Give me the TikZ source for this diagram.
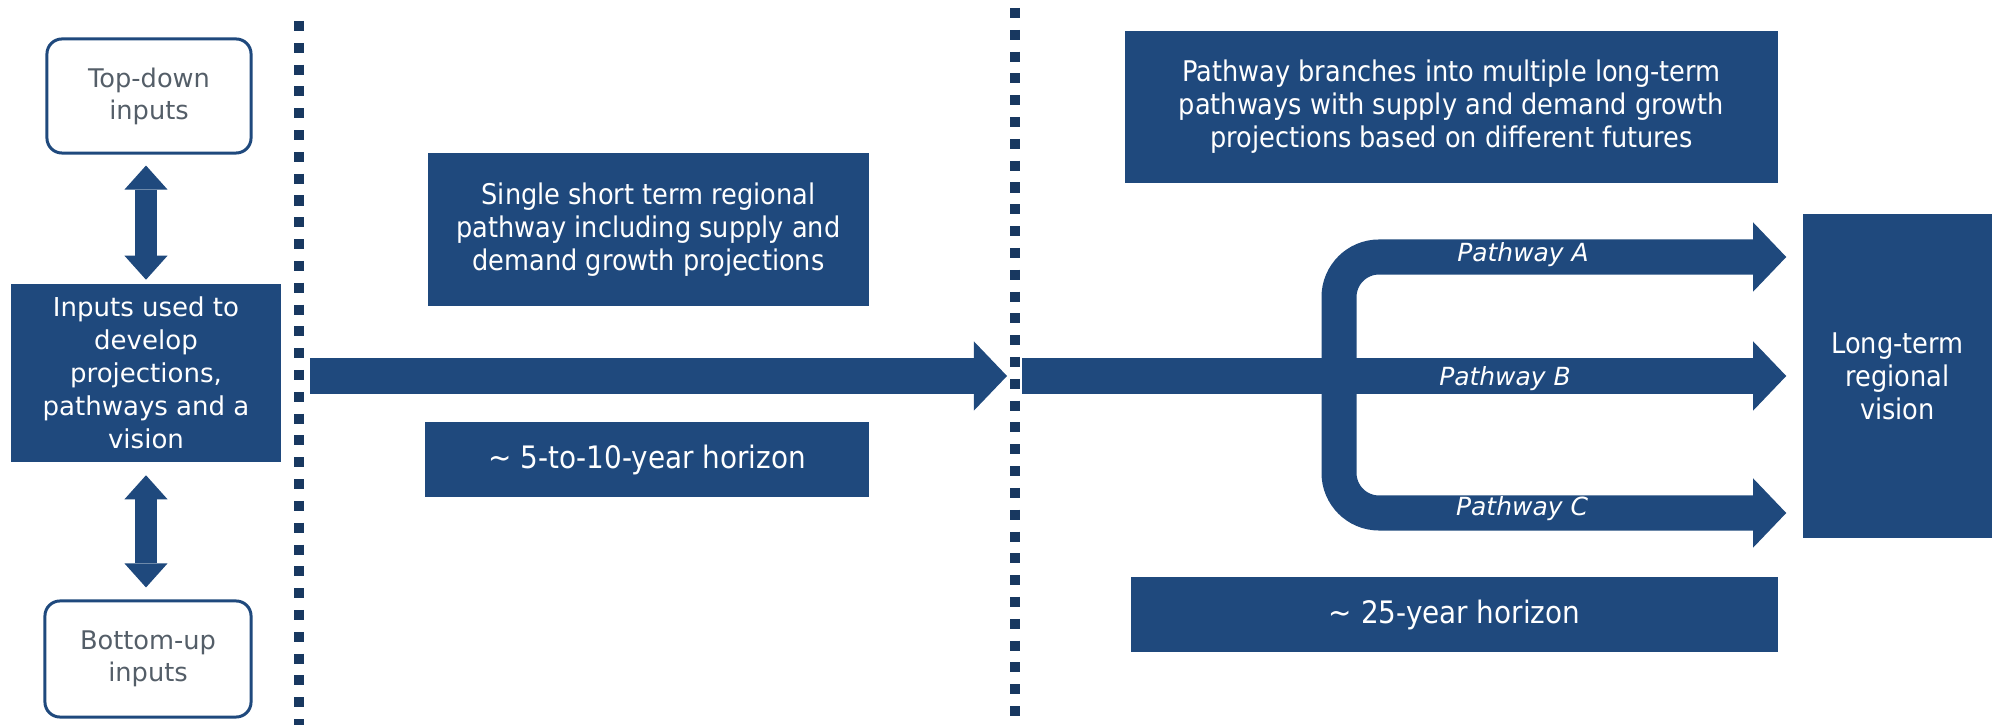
\documentclass[tikz,border=0pt]{standalone}
\usepackage{fontspec}
\setmainfont{DejaVu Sans}
\newfontfamily\narrowfont{DejaVu Sans Condensed}
\usetikzlibrary{arrows.meta}
\definecolor{boxblue}{RGB}{31,73,125}
\definecolor{dotblue}{RGB}{24,56,96}
\definecolor{textgray}{RGB}{84,94,104}

\begin{document}
\begin{tikzpicture}[x=0.01cm, y=-0.01cm,
  bluebox/.style={fill=boxblue, text=white, align=center, inner sep=0pt},
  inbox/.style={draw=boxblue, line width=0.03cm, rounded corners=0.15cm, text=textgray,
    align=center, inner sep=0pt, font=\fontsize{7.3}{9.1}\selectfont},
  boxtext/.style={font=\narrowfont\fontsize{8.1}{9.4}\selectfont},
  horizon/.style={font=\narrowfont\fontsize{8.8}{10}\selectfont},
  updown/.style={boxblue, line width=0.22cm,
    {Triangle[length=0.24cm,width=0.43cm,line width=0pt]}-{Triangle[length=0.24cm,width=0.43cm,line width=0pt]}},
  bigarrow/.style={boxblue, line width=0.35cm, -{Triangle[length=0.33cm,width=0.69cm,line width=0pt]}},
  separator/.style={dotblue, line width=0.1cm, dash pattern=on 0.1cm off 0.118cm},
  pathlabel/.style={text=white, font=\fontsize{7.1}{8.5}\selectfont\itshape}]
  \useasboundingbox (0,0) rectangle (1997,725);

  % Inputs
  \node[inbox, minimum width=2.04cm, minimum height=1.14cm] (topin) at (149,96) {Top-down\\inputs};
  \node[bluebox, minimum width=2.70cm, minimum height=1.77cm, font=\fontsize{7.4}{9.4}\selectfont]
    (inputs) at (146,373) {Inputs used to\\develop\\projections,\\pathways and a\\vision};
  \node[inbox, minimum width=2.06cm, minimum height=1.16cm] (botin) at (148,659) {Bottom-up\\inputs};

  \draw[updown, shorten <=0.11cm, shorten >=0.04cm] (topin.south -| inputs) -- (inputs.north);
  \draw[updown, shorten <=0.13cm, shorten >=0.12cm] (inputs.south) -- (botin.north -| inputs);

  % Dotted separators
  \coordinate (sepAtop) at (299,21);
  \coordinate (sepAbot) at (299,725);
  \coordinate (sepBtop) at (1015,8);
  \coordinate (sepBbot) at (1015,725);
  \draw[separator] (sepAtop) -- (sepAbot);
  \draw[separator] (sepBtop) -- (sepBbot);

  % Short term
  \node[bluebox, boxtext, minimum width=4.41cm, minimum height=1.53cm] (short) at (648.5,229.5)
    {Single short term regional\\pathway including supply and\\demand growth projections};
  \node[bluebox, horizon, minimum width=4.44cm, minimum height=0.75cm] (shorthz) at (647,459.5)
    {\textasciitilde{} 5-to-10-year horizon};

  \coordinate (gate) at (1015,376);
  \draw[bigarrow, shorten <=0.28cm, shorten >=0.08cm] (inputs.east |- gate) -- (gate);

  % Long term
  \node[bluebox, boxtext, minimum width=6.53cm, minimum height=1.52cm] (branch) at (1451.5,107)
    {Pathway branches into multiple long-term\\pathways with supply and demand growth\\projections based on different futures};
  \node[bluebox, horizon, minimum width=6.47cm, minimum height=0.75cm] (longhz) at (1454.5,614.5)
    {\textasciitilde{} 25-year horizon};
  \node[bluebox, boxtext, minimum width=1.89cm, minimum height=3.24cm] (vision) at (1897.5,376)
    {Long-term\\regional\\vision};

  % Pathways A, B, C
  \coordinate (fork) at (1339,376);
  \coordinate (armA) at (1339,257);
  \coordinate (armC) at (1339,513);
  \draw[bigarrow, shorten <=0.07cm, shorten >=0.16cm] (gate) -- (vision.west);
  \draw[bigarrow, rounded corners=0.4cm, shorten >=0.16cm] (fork) |- (vision.west |- armA);
  \draw[bigarrow, rounded corners=0.4cm, shorten >=0.16cm] (fork) |- (vision.west |- armC);

  \node[pathlabel] (labA) at (1523,255) {Pathway A};
  \node[pathlabel] (labB) at (1505,379) {Pathway B};
  \node[pathlabel] (labC) at (1522,509) {Pathway C};
\end{tikzpicture}
\end{document}
